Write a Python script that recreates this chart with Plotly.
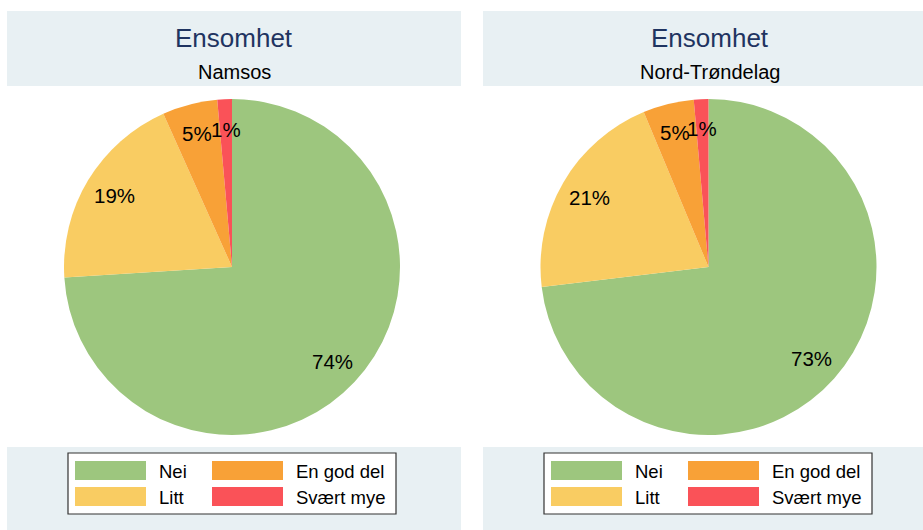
import math
import plotly.graph_objects as go

categories = ["Nei", "Litt", "En god del", "Svært mye"]
colors = ["#9dc67e", "#f9cc62", "#f8a137", "#fa5258"]
namsos_values = [74.0, 19.3, 5.3, 1.4]
ntrond_values = [73.1, 20.6, 4.9, 1.4]
panel_titles = ["Ensomhet", "Ensomhet"]
panel_subtitles = ["Namsos", "Nord-Trøndelag"]

W, H = 923, 530
FONT = "Liberation Sans, Arial, Helvetica, sans-serif"
BAND = "#e8f0f3"

fig = go.Figure()

panels = [
    dict(values=namsos_values, sub=panel_subtitles[0], title=panel_titles[0],
         band=(7, 461), pie=(64, 400), legend=(68, 396)),
    dict(values=ntrond_values, sub=panel_subtitles[1], title=panel_titles[1],
         band=(483, 937), pie=(540, 877), legend=(544, 872)),
]

pie_top, pie_bot = 99, 435
shapes = []
annotations = []

for p in panels:
    bx0, bx1 = p["band"]
    shapes.append(dict(type="rect", xref="paper", yref="paper",
                       x0=bx0 / W, x1=bx1 / W, y0=1 - 86 / H, y1=1 - 11 / H,
                       fillcolor=BAND, line=dict(width=0), layer="below"))
    shapes.append(dict(type="rect", xref="paper", yref="paper",
                       x0=bx0 / W, x1=bx1 / W, y0=0, y1=1 - 447 / H,
                       fillcolor=BAND, line=dict(width=0), layer="below"))
    cx = (bx0 + bx1) / 2
    annotations.append(dict(text=p["title"], x=cx / W, y=1 - 38 / H, xref="paper", yref="paper",
                            showarrow=False, font=dict(family=FONT, size=26, color="#1f3461"),
                            xanchor="center", yanchor="middle"))
    annotations.append(dict(text=p["sub"], x=cx / W, y=1 - 72 / H, xref="paper", yref="paper",
                            showarrow=False, font=dict(family=FONT, size=20, color="#000000"),
                            xanchor="center", yanchor="middle"))

    px0, px1 = p["pie"]
    fig.add_trace(go.Pie(
        labels=categories, values=p["values"], sort=False, direction="clockwise",
        rotation=0, marker=dict(colors=colors, line=dict(width=0)),
        textinfo="none", hoverinfo="label+value", showlegend=False,
        domain=dict(x=[px0 / W, px1 / W], y=[1 - pie_bot / H, 1 - pie_top / H]),
    ))

    pcx = (px0 + px1) / 2
    pcy = (pie_top + pie_bot) / 2
    R = (px1 - px0) / 2
    total = sum(p["values"])
    cum = 0.0
    for v in p["values"]:
        theta = (cum + v / 2) / total * 2 * math.pi
        cum += v
        r = 0.82 * R
        x = pcx + r * math.sin(theta)
        y = pcy - r * math.cos(theta)
        annotations.append(dict(text=f"{round(v)}%", x=x / W, y=1 - y / H, xref="paper", yref="paper",
                                showarrow=False, font=dict(family=FONT, size=20.5, color="#000000"),
                                xanchor="center", yanchor="middle"))

    lx0, lx1 = p["legend"]
    shapes.append(dict(type="rect", xref="paper", yref="paper",
                       x0=lx0 / W, x1=lx1 / W, y0=1 - 514 / H, y1=1 - 453 / H,
                       fillcolor="white", line=dict(color="#333333", width=1.2)))
    for i, (cat, col) in enumerate(zip(categories, colors)):
        colx = i // 2
        row = i % 2
        sx0 = lx0 + 7 + colx * 137
        sy0 = 461 + row * 26
        shapes.append(dict(type="rect", xref="paper", yref="paper",
                           x0=sx0 / W, x1=(sx0 + 71) / W, y0=1 - (sy0 + 19) / H, y1=1 - sy0 / H,
                           fillcolor=col, line=dict(width=0)))
        annotations.append(dict(text=cat, x=(sx0 + 82) / W, y=1 - (sy0 + 10) / H,
                                xref="paper", yref="paper", showarrow=False,
                                font=dict(family=FONT, size=18.5, color="#000000"),
                                xanchor="left", yanchor="middle"))

fig.update_layout(
    width=W, height=H, margin=dict(l=0, r=0, t=0, b=0),
    paper_bgcolor="white", plot_bgcolor="white",
    shapes=shapes, annotations=annotations,
)

fig.write_html("out.html", config={"displayModeBar": False},
               post_script="document.body.style.margin='0';document.body.style.overflow='hidden';")
